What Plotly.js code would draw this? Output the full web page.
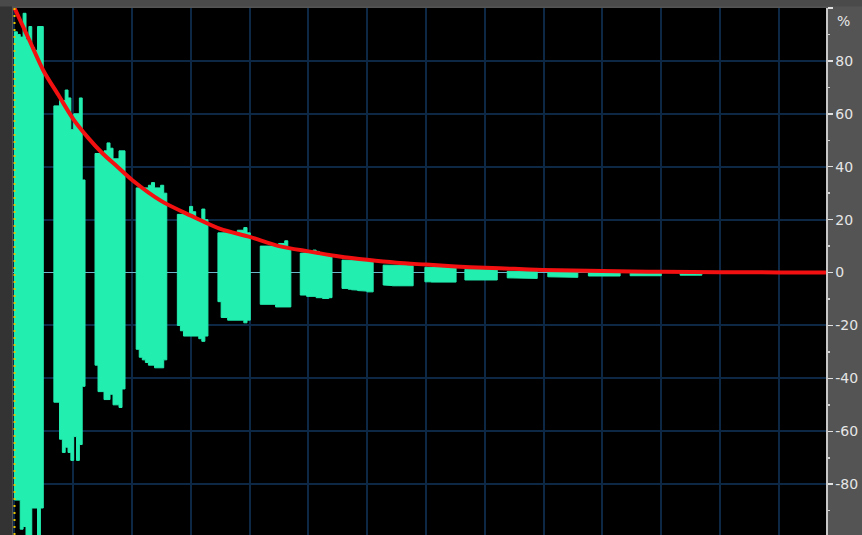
<!DOCTYPE html>
<html>
<head>
<meta charset="utf-8">
<script src="https://cdn.plot.ly/plotly-3.0.1.min.js"></script>
<style>
html,body{margin:0;padding:0;background:#545454;}
#chart{width:862px;height:535px;}
</style>
</head>
<body>
<div id="chart"></div>
<script>
// ---- data (time in ms, amplitude in %) ----
var burstStart = [0, 67, 137, 207, 277, 346, 418, 486, 557, 627, 698, 766, 838, 907, 976, 1047, 1132];
var burstEnd   = [49, 120, 188, 259, 329, 401, 470, 540, 610, 678, 751, 821, 889, 958, 1030, 1100, 1169];
var burstTop = [
  [91, 90, 89, 98, 88, 93, 85, 84, 93, 93],
  [63, 63, 65, 65, 69, 66, 54, 60, 60, 66, 35],
  [45, 45, 45, 46, 49, 47, 43, 43, 46, 46],
  [32, 32, 32, 32, 33, 34, 32, 32, 33, 30],
  [22, 22, 22, 22, 25, 23, 20, 20, 24, 20],
  [15, 15, 15, 15, 15, 15, 16, 16, 17, 15],
  [10, 10, 10, 10, 10, 10, 11, 11, 12, 9],
  [7.3, 7.5, 8, 8, 8.5, 8, 7.5, 7, 6.5, 6],
  [4.7, 4.7, 4.8, 4.8, 4.7, 4.6, 4.5, 4.5, 4.4, 4.3],
  [2.8, 2.8, 2.9, 2.9, 2.8, 2.8, 2.7, 2.7, 2.6, 2.6],
  [2, 2, 2, 2, 2, 2, 1.9, 1.9, 1.8, 1.8],
  [1.2, 1.2, 1.2, 1.2, 1.2, 1.2, 1.1, 1.1, 1.1, 1.1],
  [0.5, 0.5, 0.5, 0.5, 0.5, 0.5, 0.5, 0.5, 0.5, 0.5],
  [0.3, 0.3, 0.3, 0.3, 0.3, 0.3, 0.3, 0.3, 0.3, 0.3],
  [0.2, 0.2, 0.2, 0.2, 0.2, 0.2, 0.2, 0.2, 0.2, 0.2],
  [0.1, 0.1, 0.1, 0.1, 0.1, 0.1, 0.1, 0.1, 0.1, 0.1],
  [0, 0, 0, 0, 0]
];
var burstBottom = [
  [-86, -86, -97, -96, -100, -100, -89, -89, -100, -89],
  [-49, -49, -63, -68, -66, -68, -71, -62, -71, -65, -43],
  [-35, -45, -45, -48, -48, -46, -50, -50, -51, -44],
  [-29, -32, -33, -34, -35, -35, -36, -36, -36, -33],
  [-20, -22, -24, -24, -24, -24, -24, -25, -26, -24],
  [-11, -17, -17, -18, -18, -18, -18, -18, -19, -18],
  [-12, -12, -12, -12, -12, -13, -13, -13, -13, -13],
  [-8.5, -8.5, -9, -9, -9, -9.5, -9.5, -9.8, -9.8, -9.5],
  [-6, -6, -6.3, -6.5, -6.6, -6.8, -7, -7, -7.3, -7.3],
  [-4.7, -4.8, -4.9, -5, -5.1, -5.1, -5.2, -5.2, -5.2, -5],
  [-3.5, -3.5, -3.6, -3.6, -3.7, -3.7, -3.7, -3.8, -3.8, -3.6],
  [-2.8, -2.8, -2.8, -2.8, -2.8, -2.8, -2.8, -2.8, -2.8, -2.8],
  [-2.0, -2.2, -2.2, -2.2, -2.2, -2.2, -2.2, -2.2, -2.2, -2.2],
  [-1.6, -1.6, -1.8, -1.8, -1.6, -1.6, -1.6, -1.6, -1.8, -1.8],
  [-1.3, -1.3, -1.3, -1.3, -1.3, -1.3, -1.3, -1.3, -1.3, -1.3],
  [-1.2, -1.2, -1.2, -1.2, -1.2, -1.2, -1.2, -1.2, -1.2, -1.2],
  [-1.0, -1.0, -1.0, -1.0, -1.0]
];
var envelopeX = [0, 25, 50, 75, 100, 125, 150, 175, 200, 250, 300, 350, 400, 450, 500, 550, 600, 650, 700, 750, 800, 850, 900, 950, 1000, 1050, 1100, 1200, 1300, 1380];
var envelopeY = [100, 88, 76, 67, 58, 51, 45, 40, 35, 27, 21.5, 16.5, 13.5, 10, 8, 6.2, 4.8, 3.7, 3.0, 2.3, 1.8, 1.4, 1.0, 0.8, 0.6, 0.4, 0.3, 0.15, 0.05, 0];
var yTickVals = [100, 80, 60, 40, 20, 0, -20, -40, -60, -80];
var yTickText = ['', '80', '60', '40', '20', '0', '-20', '-40', '-60', '-80'];
var yMinorVals = [90, 70, 50, 30, 10, -10, -30, -50, -70, -90];

(function () {
  // ---- build one stepped polygon trace per burst ----
  var traces = [];
  for (var b = 0; b < burstStart.length; b++) {
    var hi = burstTop[b], lo = burstBottom[b];
    var n = hi.length, s = burstStart[b], w = burstEnd[b] - burstStart[b];
    var px = [], py = [];
    for (var k = 0; k < n; k++) {
      px.push(s + k * w / n, s + (k + 1) * w / n);
      py.push(hi[k], hi[k]);
    }
    for (var k2 = n - 1; k2 >= 0; k2--) {
      px.push(s + (k2 + 1) * w / n, s + k2 * w / n);
      py.push(lo[k2], lo[k2]);
    }
    px.push(px[0]); py.push(py[0]);
    traces.push({
      x: px, y: py, type: 'scatter', mode: 'lines',
      fill: 'toself', fillcolor: '#22eeb0',
      line: {width: 1, color: '#22eeb0'},
      hoverinfo: 'skip', showlegend: false
    });
  }
  traces.push({
    x: envelopeX, y: envelopeY, type: 'scatter', mode: 'lines',
    line: {color: '#f21010', width: 4, shape: 'spline', smoothing: 0.8},
    hoverinfo: 'skip', showlegend: false
  });

  var W = 862, H = 535, ml = 13, mr = 36, mt = 8, mb = 0;
  var pw = W - ml - mr, ph = H - mt - mb;

  var layout = {
    width: W, height: H,
    margin: {l: ml, r: mr, t: mt, b: mb, pad: 0},
    paper_bgcolor: '#545454',
    plot_bgcolor: '#000000',
    showlegend: false,
    xaxis: {
      range: [-2.5, 1380.1], tickmode: 'linear', tick0: 0, dtick: 100,
      showgrid: true, gridcolor: '#0c2844', gridwidth: 2,
      zeroline: false, showticklabels: false, ticks: '', showline: false, fixedrange: true
    },
    yaxis: {
      range: [-99.2, 100], side: 'right',
      tickmode: 'array', tickvals: yTickVals, ticktext: yTickText,
      showgrid: true, gridcolor: '#0c2844', gridwidth: 2,
      zeroline: true, zerolinecolor: '#6ab4c8', zerolinewidth: 1.5,
      showline: true, linecolor: '#c8c8c8', linewidth: 1.5, mirror: false,
      ticks: 'outside', ticklen: 5, tickwidth: 1.5, tickcolor: '#e0e0e0',
      tickfont: {family: 'DejaVu Sans', size: 14, color: '#e6e6e6'},
      minor: {tickmode: 'array', tickvals: yMinorVals, ticks: 'outside', ticklen: 2, tickwidth: 1.5, tickcolor: '#d0d0d0', showgrid: false},
      fixedrange: true
    },
    shapes: [
      {type: 'rect', xref: 'paper', yref: 'paper', x0: -ml / pw, x1: -1 / pw, y0: -0.05, y1: 1.05, fillcolor: '#333333', line: {width: 0}, layer: 'below'},
      {type: 'rect', xref: 'paper', yref: 'paper', x0: -ml / pw, x1: 1 + mr / pw, y0: 1 + 1.5 / ph, y1: 1 + mt / ph, fillcolor: '#4a4a4a', line: {width: 0}, layer: 'below'},
      {type: 'line', xref: 'paper', yref: 'paper', x0: 1.5 / pw, x1: 1.5 / pw, y0: 0, y1: 1, line: {color: '#e8c400', width: 2, dash: '2px,5px'}, layer: 'above'}
    ],
    annotations: [
      {xref: 'paper', yref: 'paper', x: 1, y: 1, xanchor: 'left', yanchor: 'top', xshift: 9, yshift: -3,
       text: '%', showarrow: false, font: {family: 'DejaVu Sans', size: 14, color: '#e6e6e6'}}
    ]
  };

  Plotly.newPlot('chart', traces, layout, {displayModeBar: false, staticPlot: true});
})();
</script>
</body>
</html>
